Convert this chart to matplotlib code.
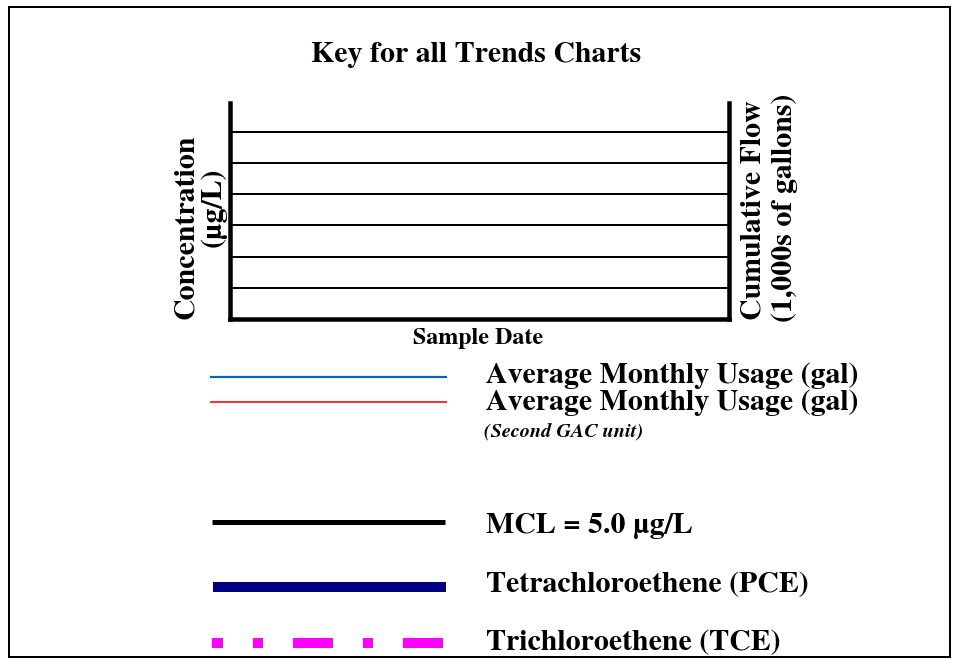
import matplotlib
matplotlib.use("Agg")
import matplotlib.pyplot as plt

# Times-like face with a real bold cut
plt.rcParams["font.family"] = ["TeX Gyre Termes", "Liberation Serif", "DejaVu Serif"]
plt.rcParams["lines.scale_dashes"] = False

W, H = 955, 660
PX = 0.72  # points per pixel at dpi 100

# chart data
title = "Key for all Trends Charts"
grid_levels = [1, 2, 3, 4, 5, 6]
y_max = 6.93
left_label = ["Concentration", "(µg/L)"]
right_label = ["Cumulative Flow", "(1,000s of gallons)"]
x_label = "Sample Date"

key_labels = [
    "Average Monthly Usage (gal)",
    "Average Monthly Usage (gal)",
    "MCL = 5.0 µg/L",
    "Tetrachloroethene (PCE)",
    "Trichloroethene (TCE)",
]
key_colors = ["#0066CC", "#FF0000", "#000000", "#000080", "#FF00FF"]
key_widths = [2.2, 1.6, 5, 10, 10]
key_styles = ["-", "-", "-", "-", (29 * PX, (40 * PX, 30 * PX, 10 * PX, 30 * PX))]
key_note = "(Second GAC unit)"

fig = plt.figure(figsize=(W / 100, H / 100), dpi=100)

# skeleton chart
ax = fig.add_axes([229.5 / W, 1 - 319 / H, (729 - 229.5) / W, (319 - 103) / H])
ax.set_xlim(0, 1)
ax.set_ylim(0, y_max)
ax.set_yticks(grid_levels)
ax.set_xticks([])
ax.tick_params(axis="y", length=0, labelleft=False)
ax.grid(axis="y", color="black", linewidth=2 * PX)
ax.set_axisbelow(True)
ax.spines["top"].set_visible(False)
for side in ["left", "right", "bottom"]:
    ax.spines[side].set_linewidth(4.5 * PX)
    ax.spines[side].set_capstyle("projecting")

# overlay in pixel coordinates
ov = fig.add_axes([0, 0, 1, 1], facecolor="none")
ov.set_xlim(0, W)
ov.set_ylim(H, 0)
ov.axis("off")

ov.add_patch(plt.Rectangle((8.5, 6.5), 941, 650, fill=False,
                           edgecolor="black", linewidth=2 * PX))

bold = dict(fontweight="bold")
ov.text(476.5, 62, title, fontsize=21.5, ha="center", va="baseline", **bold)
ov.text(478, 344, x_label, fontsize=17.3, ha="center", va="baseline", **bold)

rot = dict(rotation=90, rotation_mode="anchor", ha="center", va="baseline",
           fontsize=21.5, fontweight="bold")
ov.text(193, 227, left_label[0], **rot)
ov.text(221, 207, left_label[1], **rot)
ov.text(760, 210, right_label[0], **rot)
ov.text(792, 208, right_label[1], **rot)

line_y = [377, 402, 522, 587, 643]
line_x = [[210, 447], [210, 447], [212, 445], [213, 446], [212, 446]]
text_y = [383, 410, 533, 592, 650]
for lbl, col, lw, ls, ly, lx, ty in zip(key_labels, key_colors, key_widths,
                                         key_styles, line_y, line_x, text_y):
    ov.plot(lx, [ly, ly], color=col, linewidth=lw * PX, linestyle=ls,
            solid_capstyle="butt", dash_capstyle="butt")
    ov.text(486, ty, lbl, fontsize=21.5, ha="left", va="baseline", **bold)

ov.text(484, 437, key_note, fontsize=14.5, style="italic",
        ha="left", va="baseline", **bold)

fig.savefig("out.png", dpi=100)
